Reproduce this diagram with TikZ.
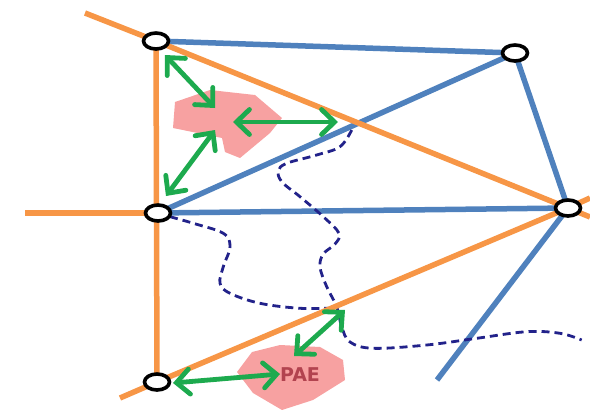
\documentclass[tikz,border=0pt]{standalone}
\usepackage{fontspec}
\setmainfont{DejaVu Sans}
\usetikzlibrary{arrows.meta,shapes.geometric}
\definecolor{orng}{HTML}{F79646}
\definecolor{blu}{HTML}{4F81BD}
\definecolor{grn}{HTML}{1DAA4E}
\definecolor{pnk}{HTML}{F7A1A1}
\definecolor{navy}{HTML}{22228A}
\definecolor{paetext}{HTML}{B2434F}
\pgfdeclarelayer{bg}
\pgfsetlayers{bg,main}
\tikzset{
  vtx/.style={ellipse, draw=black, fill=white, line width=3.6pt, minimum width=25pt, minimum height=16pt, inner sep=0pt},
  oline/.style={draw=orng, line width=5.5pt},
  bline/.style={draw=blu, line width=5.5pt},
  dline/.style={draw=navy, line width=2.8pt, dash pattern=on 8pt off 5pt},
  garrow/.style={draw=grn, line width=4.8pt, line cap=round, {Straight Barb[length=13pt,width=25pt,line cap=round]}-{Straight Barb[length=13pt,width=25pt,line cap=round]}},
  blob/.style={fill=pnk, draw=none}
}
\begin{document}
\begin{tikzpicture}[x=1pt,y=-1pt]
\useasboundingbox (0,0) rectangle (590,410);
% vertices
\node[vtx] (A) at (156,41) {};
\node[vtx] (B) at (515,53) {};
\node[vtx] (C) at (158,213) {};
\node[vtx] (D) at (568,208) {};
\node[vtx] (E) at (157,382) {};
% free ends
\coordinate (o1s) at (85,13);
\coordinate (o1e) at (590,217);
\coordinate (o2s) at (120,398);
\coordinate (o2e) at (590,198);
\coordinate (o3s) at (25,213);
\coordinate (b1e) at (437,380);
% green arrow ends
\coordinate (g1a) at (165,55);  \coordinate (g1b) at (215,108);
\coordinate (g2a) at (215,130); \coordinate (g2b) at (166,196);
\coordinate (g3a) at (233,122); \coordinate (g3b) at (338,122);
\coordinate (g4a) at (173,383); \coordinate (g4b) at (280,374);
\coordinate (g5a) at (294,356); \coordinate (g5b) at (345,310);
\begin{pgfonlayer}{bg}
  % blue lines
  \draw[bline] (A.center) -- (B.center);
  \draw[bline] (C.center) -- (B.center);
  \draw[bline] (C.center) -- (D.center);
  \draw[bline] (B.center) -- (D.center);
  \draw[bline] (D.center) -- (b1e);
  % dashed curves
  \draw[dline] plot[smooth, tension=0.6] coordinates {(351.7,130) (340,146.7) (316.7,155) (286.7,163.3) (278.3,171) (282,182) (300,196.7) (323.3,216.7) (339,233.3) (335,244) (323.3,254) (320,267) (326.7,286.7) (336.7,306.7) (341.7,326.7) (350,342) (373.3,348.3) (426.7,345) (476.7,338.3) (526.7,331.7) (560,333.3) (581.7,340)};
  \draw[dline] plot[smooth, tension=0.6] coordinates {(170,216.7) (193.3,223.3) (223.3,233.3) (230,246.7) (223.3,266.7) (220,283.3) (230,293.3) (260,303.3) (300,308.3) (334,308)};
  % orange lines
  \draw[oline] (o1s) -- (A.center) -- (D.center) -- (o1e);
  \draw[oline] (o2s) -- (E.center) -- (D.center) -- (o2e);
  \draw[oline] (o3s) -- (C.center);
  \draw[oline] (A.center) -- (E.center);
  % pink regions
  \path[blob] (173,128) -- (175,102) -- (210,90) -- (255,95) -- (282,118) -- (270,133) -- (240,158) -- (225,152) -- (222,138) -- cycle;
  \path[blob] (237,372) -- (252,352) -- (280,345) -- (320,347) -- (343,360) -- (345,380) -- (313,400) -- (282,410) -- (253,393) -- cycle;
\end{pgfonlayer}
\node[text=paetext, font=\bfseries\fontsize{19}{19}\selectfont, inner sep=0pt] (pae) at (300,375) {PAE};
% green arrows
\draw[garrow] (g1a) -- (g1b);
\draw[garrow] (g2a) -- (g2b);
\draw[garrow] (g3a) -- (g3b);
\draw[garrow] (g4a) -- (g4b);
\draw[garrow] (g5a) -- (g5b);
\end{tikzpicture}
\end{document}
